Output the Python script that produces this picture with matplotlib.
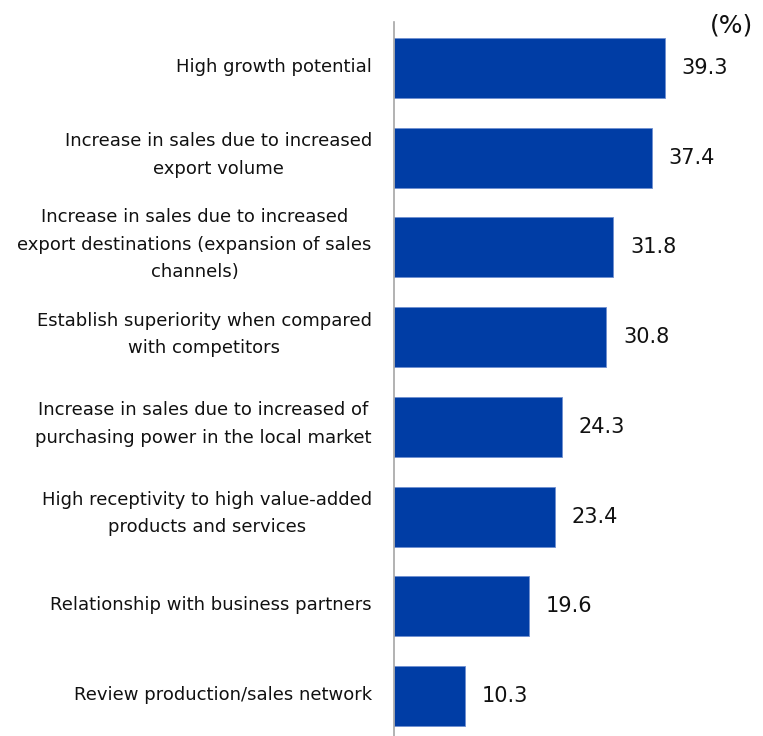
import matplotlib
matplotlib.use("Agg")
import matplotlib.pyplot as plt
from matplotlib.transforms import ScaledTranslation

categories = [
    "High growth potential",
    "Increase in sales due to increased\nexport volume",
    "Increase in sales due to increased\nexport destinations (expansion of sales\nchannels)",
    "Establish superiority when compared\nwith competitors",
    "Increase in sales due to increased of\npurchasing power in the local market",
    "High receptivity to high value-added\nproducts and services",
    "Relationship with business partners",
    "Review production/sales network",
]
values = [39.3, 37.4, 31.8, 30.8, 24.3, 23.4, 19.6, 10.3]

plt.rcParams["font.family"] = ["DejaVu Sans"]

fig = plt.figure(figsize=(7.63, 7.36), dpi=100)
ax = fig.add_axes([394 / 763, 0.0, 1 - 394 / 763, 1 - 22 / 736])

pos = list(range(len(values)))
ax.barh(pos, values, height=0.67, color="#003DA5", edgecolor="#6F8FD0", linewidth=0.6)

for y, v in zip(pos, values):
    ax.text(v + 2.4, y, f"{v:.1f}", va="center", ha="left", fontsize=15, color="#111111")

ax.set_yticks(pos)
ax.set_yticklabels(categories, fontsize=13, multialignment="center",
                   linespacing=1.67, color="#111111")
ax.tick_params(axis="y", length=0, pad=16)
# nudge category labels slightly upward (multi-line blocks a bit more)
for lab, name in zip(ax.get_yticklabels(), categories):
    dy = 3 if "\n" not in name else 9.5
    lab.set_transform(lab.get_transform() + ScaledTranslation(0, dy / 100, fig.dpi_scale_trans))
ax.set_xticks([])
ax.set_xlim(0, 53.5)
ax.set_ylim(7.446, -0.513)

for side in ("top", "right", "bottom"):
    ax.spines[side].set_visible(False)
ax.spines["left"].set_color("#A6A6A6")
ax.spines["left"].set_linewidth(1.2)

fig.text(732 / 763, 1 - 25 / 736, "(%)", ha="center", va="center", fontsize=18, color="#111111")

fig.savefig("out.png", dpi=100)
